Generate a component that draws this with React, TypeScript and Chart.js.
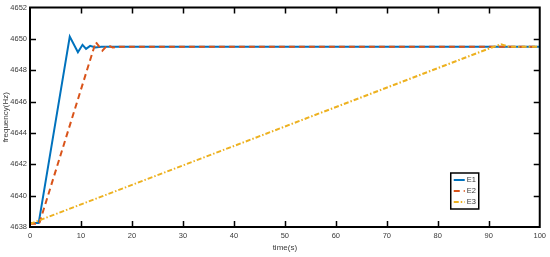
import React, { useEffect, useRef } from "react";
import { Chart, registerables } from "chart.js";

Chart.register(...registerables);

const seriesLabels = ["E1", "E2", "E3"];
const seriesColors = ["#0072BD", "#D95319", "#EDB120"];

const e1Time = [0, 1.7, 7.8, 9.4, 10.3, 11.0, 11.8, 12.8, 14, 100];
const e1Freq = [4638.25, 4638.25, 4650.15, 4649.15, 4649.62, 4649.36, 4649.55, 4649.45, 4649.5, 4649.5];

const e2Time = [0, 1.8, 12.9, 14.2, 15.2, 16.2, 17.5, 100];
const e2Freq = [4638.2, 4638.2, 4649.8, 4649.25, 4649.6, 4649.45, 4649.5, 4649.5];

const e3Time = [0, 90.6, 92.4, 94.0, 100];
const e3Freq = [4638.2, 4649.45, 4649.65, 4649.5, 4649.5];

const xTicksMin = 0;
const xTicksMax = 100;
const xTickStep = 10;
const yTicksMin = 4638;
const yTicksMax = 4652;
const yTickStep = 2;

const FONT = "'Liberation Sans Narrow', 'Liberation Sans', Arial, sans-serif";
const TEXT_COLOR = "#3a3a3a";

function toPoints(xs: number[], ys: number[]) {
  return xs.map((x, i) => ({ x, y: ys[i] }));
}

const framePlugin = {
  id: "matlabFrame",
  afterDatasetsDraw(chart: any) {
    const { ctx, chartArea } = chart;
    const { left, right, top, bottom } = chartArea;
    const xs = chart.scales.x;
    const ys = chart.scales.y;
    const tl = 6;
    ctx.save();
    ctx.strokeStyle = "#000";
    ctx.lineWidth = 1.5;
    ctx.beginPath();
    xs.ticks.forEach((t: any) => {
      const px = Math.round(xs.getPixelForValue(t.value)) + 0.5;
      if (px - left < 2 || right - px < 2) return;
      ctx.moveTo(px, bottom);
      ctx.lineTo(px, bottom - tl);
      ctx.moveTo(px, top);
      ctx.lineTo(px, top + tl);
    });
    ys.ticks.forEach((t: any) => {
      const py = Math.round(ys.getPixelForValue(t.value)) + 0.5;
      if (py - top < 2 || bottom - py < 2) return;
      ctx.moveTo(left, py);
      ctx.lineTo(left + tl, py);
      ctx.moveTo(right, py);
      ctx.lineTo(right - tl, py);
    });
    ctx.stroke();
    ctx.lineWidth = 2;
    ctx.strokeRect(left, top, right - left, bottom - top);

    // legend box
    const bw = 28;
    const bh = 36;
    const bx = right - 61 - bw;
    const by = bottom - 18 - bh;
    ctx.fillStyle = "#fff";
    ctx.fillRect(bx, by, bw, bh);
    ctx.lineWidth = 1.5;
    ctx.strokeStyle = "#000";
    ctx.strokeRect(bx, by, bw, bh);
    ctx.font = "7.5px " + FONT;
    ctx.textBaseline = "middle";
    ctx.textAlign = "left";
    chart.data.datasets.forEach((ds: any, i: number) => {
      const y = by + 7 + i * 11;
      ctx.save();
      ctx.strokeStyle = ds.borderColor;
      ctx.lineWidth = 2;
      ctx.setLineDash(ds.borderDash || []);
      ctx.beginPath();
      ctx.moveTo(bx + 3, y);
      ctx.lineTo(bx + 14, y);
      ctx.stroke();
      ctx.restore();
      ctx.fillStyle = TEXT_COLOR;
      ctx.fillText(ds.label, bx + 16, y);
    });
    ctx.restore();
  },
};

export default function App() {
  const canvasRef = useRef<HTMLCanvasElement | null>(null);

  useEffect(() => {
    document.body.style.margin = "0";
    const canvas = canvasRef.current;
    if (!canvas) return;
    const dashes = [[], [6, 4], [5, 2, 1.5, 2]];
    const orders = [2, 1, 0];
    const chart = new Chart(canvas, {
      type: "line",
      data: {
        datasets: [
          { data: toPoints(e1Time, e1Freq) },
          { data: toPoints(e2Time, e2Freq) },
          { data: toPoints(e3Time, e3Freq) },
        ].map((d, i) => ({
          label: seriesLabels[i],
          data: d.data,
          borderColor: seriesColors[i],
          backgroundColor: seriesColors[i],
          borderWidth: 2,
          borderDash: dashes[i],
          order: orders[i],
          pointRadius: 0,
          tension: 0,
          fill: false,
        })),
      },
      options: {
        responsive: false,
        animation: false,
        layout: { padding: { top: 7, right: 8, left: 0, bottom: 0 } },
        plugins: { legend: { display: false }, tooltip: { enabled: false } },
        scales: {
          x: {
            type: "linear",
            min: xTicksMin,
            max: xTicksMax,
            ticks: {
              stepSize: xTickStep,
              color: TEXT_COLOR,
              font: { family: FONT, size: 7.5 },
              padding: 4,
              maxRotation: 0,
              callback: (v: any) => String(v),
            },
            grid: { display: false, drawTicks: false },
            border: { display: false },
            title: {
              display: true,
              text: "time(s)",
              color: TEXT_COLOR,
              font: { family: FONT, size: 8 },
              padding: { top: 0, bottom: 4 },
            },
            afterFit: (s: any) => {
              s.height = 30;
            },
          },
          y: {
            type: "linear",
            min: yTicksMin,
            max: yTicksMax,
            ticks: {
              stepSize: yTickStep,
              color: TEXT_COLOR,
              font: { family: FONT, size: 7.5 },
              padding: 3,
              callback: (v: any) => String(v),
            },
            grid: { display: false, drawTicks: false },
            border: { display: false },
            title: {
              display: true,
              text: "frequency(Hz)",
              color: TEXT_COLOR,
              font: { family: FONT, size: 8 },
              padding: { top: 1, bottom: 0 },
            },
            afterFit: (s: any) => {
              s.width = 30;
            },
          },
        },
      },
      plugins: [framePlugin],
    } as any);
    return () => chart.destroy();
  }, []);

  return (
    <div style={{ width: 550, height: 257 }}>
      <canvas ref={canvasRef} width={550} height={257} style={{ display: "block" }} />
    </div>
  );
}
